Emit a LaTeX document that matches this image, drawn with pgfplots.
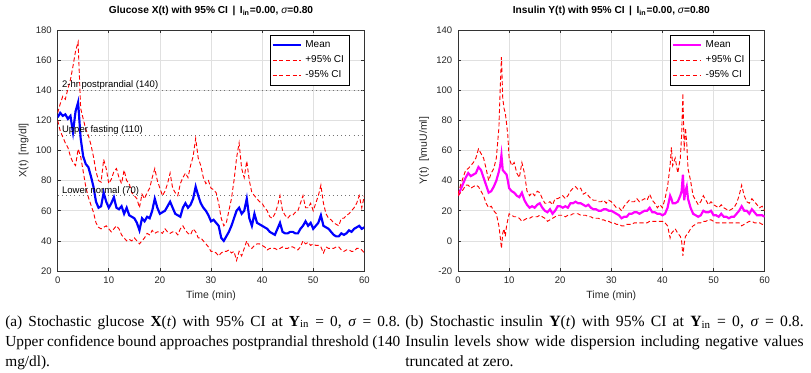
\documentclass[border=0pt]{standalone}
\usepackage{fontspec}
\setmainfont{Liberation Serif}
\setsansfont{Liberation Sans}
\newfontfamily\chartfont{Liberation Sans}
\usepackage{pgfplots}
\pgfplotsset{compat=1.18}
\usepackage{pgfplotstable}
\definecolor{mag}{RGB}{255,0,255}
\definecolor{mblue}{RGB}{0,0,255}
\definecolor{mred}{RGB}{255,0,0}

% glucose: t, mean, upper, lower
\pgfplotstableread{
t m u l
0 122 125 120
0.5 125 131 113
1 123 136 109
1.5 124 134 105
2 121 141 102
2.5 123 147 96
3 112 156 92
3.5 126 166 90
4 132 172 101
4.5 108 128 96
5 96 121 86
5.5 91 114 76
6 89 110 69
6.5 83 104 64
7 76 96 59
7.5 66 86 52
8 62 80 49
8.5 63 79 48
9 72 94 49
9.5 66 88 50
10 62 78 48
10.5 65 81 46
11 69 86 48
11.5 62 88 50
12 61 82 48
12.5 63 78 44
13 58 87 42
13.5 62 80 40
14 57 78 41
14.5 56 72 40
15 55 70 42
15.5 52 68 40
16 47 62 38
16.5 55 71 40
17 53 68 42
17.5 56 72 45
18 55 75 44
18.5 60 82 47
19 68 88 45
19.5 62 80 46
20 58 75 46
20.5 59 70 45
21 60 73 48
21.5 63 78 46
22 66 85 45
22.5 62 75 46
23 58 72 46
23.5 57 70 44
24 56 78 48
24.5 62 82 50
25 65 85 47
25.5 62 82 45
26 64 90 44
26.5 68 96 48
27 76 108 46
27.5 70 95 42
28 65 90 42
28.5 62 82 40
29 60 78 38
29.5 57 80 36
30 53 75 33
30.5 54 74 33
31 52 72 32
31.5 50 65 30
32 42 55 32
32.5 40 50 33
33 43 52 33
33.5 46 60 34
34 50 68 32
34.5 55 80 33
35 60 95 27
35.5 62 105 33
36 58 88 30
36.5 60 82 35
37 68 93 40
37.5 55 80 36
38 50 72 35
38.5 58 70 37
39 52 68 38
39.5 51 66 38
40 50 65 37
40.5 49 62 36
41 48 60 34
41.5 46 56 35
42 45 55 35
42.5 44 58 35
43 48 63 34
43.5 52 70 35
44 46 60 36
44.5 45 57 35
45 45 55 35
45.5 46 57 36
46 46 57 36
46.5 45 59 35
47 45 60 34
47.5 48 65 36
48 50 70 40
48.5 53 62 38
49 50 62 39
49.5 52 65 37
50 48 60 38
50.5 50 65 37
51 52 70 37
51.5 57 77 36
52 50 65 32
52.5 49 58 36
53 48 55 35
53.5 46 54 35
54 44 52 35
54.5 43 51 36
55 43 50 36
55.5 45 55 34
56 44 55 33
56.5 45 57 34
57 47 58 34
57.5 46 60 33
58 48 62 33
58.5 49 65 35
59 50 70 35
59.5 48 62 34
60 49 70 32
}\glucose

% insulin: t, mean, upper, lower
\pgfplotstableread{
t m u l
0 30 31 30
0.5 34 37 32
1 38 42 34
1.5 42 47 37
2 45 48 37
2.5 43 50 35
3 44 52 36
3.5 45 55 37
4 49 61 36
4.5 47 58 33
5 42 55 30
5.5 37 48 25
6 32 40 22
6.5 33 45 23
7 36 48 20
7.5 40 55 18
8 46 75 10
8.25 50 100 3
8.5 57 122 -5
8.75 47 95 5
9 46 88 8
9.25 45 85 3
9.5 44 78 10
9.75 40 70 14
10 35 55 18
10.5 33 50 17
11 32 52 16
11.5 30 45 16
12 29 42 15
12.5 32 52 13
13 27 45 14
13.5 24 33 15
14 22 30 15
14.5 23 32 16
15 22 30 16
15.5 24 33 16
16 25 32 17
16.5 22 28 16
17 20 25 15
17.5 19 25 13
18 21 26 14
18.5 18 24 15
19 20 28 16
19.5 23 28 17
20 23 29 17
20.5 22 30 17
21 23 28 16
21.5 22 30 17
22 25 33 17
22.5 25 35 18
23 26 36 18
23.5 25 34 18
24 25 35 17
24.5 24 31 17
25 23 32 17
25.5 24 30 16
26 22 28 16
26.5 21 27 15
27 21 27 15
27.5 20 26 15
28 20 26 14
28.5 21 27 14
29 21 25 13
29.5 20 27 13
30 20 26 12
30.5 19 24 12
31 18 22 11
31.5 17 22 11
32 15 20 10
32.5 16 23 10
33 16 25 11
33.5 18 27 11
34 18 26 11
34.5 19 26 12
35 19 28 12
35.5 18 26 12
36 19 27 12
36.5 20 28 12
37 20 27 12
37.5 22 31 13
38 19 27 13
38.5 19 25 13
39 18 22 13
39.5 18 24 13
40 17 22 13
40.5 18 28 12
41 22 36 10
41.5 30 50 2
41.75 28 62 5
42 25 50 6
42.5 25 55 8
43 26 45 5
43.5 30 55 3
43.75 33 70 0
44 44 98 -10
44.25 27 60 -2
44.5 33 75 3
44.75 36 65 4
45 28 48 5
45.5 22 40 8
46 18 30 10
46.5 17 27 11
47 16 24 12
47.5 17 26 12
48 20 30 13
48.5 19 27 13
49 19 24 14
49.5 20 26 14
50 17 24 13
50.5 17 23 12
51 16 22 12
51.5 18 24 12
52 16 22 12
52.5 16 21 12
53 15 20 12
53.5 16 21 12
54 16 22 12
54.5 18 25 12
55 20 30 12
55.5 23 37 10
56 20 30 11
56.5 20 26 12
57 18 25 13
57.5 21 28 13
58 19 26 12
58.5 17 24 12
59 17 22 12
59.5 17 23 11
60 16 20 11
}\insulin

\newcommand{\cf}{\chartfont\fontsize{5.7}{6.6}\selectfont}
\newcommand{\lf}{\chartfont\fontsize{6.3}{7.2}\selectfont}

\pgfplotsset{
  matstyle/.style={
    scale only axis, width=184pt, height=144.6pt,
    anchor=south west,
    xmin=0, xmax=60, xtick={0,10,...,60},
    font=\cf,
    tick label style={font=\cf, text=black!85},
    label style={font=\lf, text=black!85},
    /pgf/number format/assume math mode=true,
    grid=major, major grid style={black!12, line width=0.35pt},
    axis line style={black!80, line width=0.4pt},
    tick style={black!80, line width=0.35pt},
    major tick length=2pt, tick align=inside, tick pos=both,
    title style={font=\chartfont\bfseries\fontsize{6.1}{7}\selectfont, yshift=-1pt},
    xlabel={Time (min)},
    xlabel style={yshift=2.5pt},
    ylabel style={yshift=-2.5pt},
    legend style={at={(1,1)}, anchor=north east, xshift=-9pt, yshift=-3pt,
      draw=black, line width=0.4pt, font=\chartfont\fontsize{6}{7}\selectfont,
      inner sep=1pt, row sep=-0.5pt, cells={anchor=west}},
    legend image code/.code={\draw[##1] (0pt,0pt) -- (17pt,0pt);},
    cidash/.style={mred, line width=0.55pt, dash pattern=on 2.5pt off 1.5pt},
  }
}

\begin{document}
\begin{tikzpicture}
\path[use as bounding box] (0,0) rectangle (486.6pt,223.2pt);

\begin{axis}[matstyle, at={(34.6pt,60.6pt)},
  ymin=20, ymax=180, ytick={20,40,...,180},
  title={Glucose X(t) with 95\% CI \,|\, I\textsubscript{in}=0.00, {\mdseries\itshape σ}=0.80},
  ylabel={X(t)\enspace[mg/dl]},
]
\addplot[black!55, dotted, line width=0.5pt, forget plot] coordinates {(0,140) (60,140)};
\addplot[black!55, dotted, line width=0.5pt, forget plot] coordinates {(0,110) (60,110)};
\addplot[black!55, dotted, line width=0.5pt, forget plot] coordinates {(0,70) (60,70)};
\addplot[mblue, line width=1.3pt] table[x=t, y=m] {\glucose};
\addlegendentry{Mean}
\addplot[cidash] table[x=t, y=u] {\glucose};
\addlegendentry{+95\% CI}
\addplot[cidash] table[x=t, y=l] {\glucose};
\addlegendentry{-95\% CI}
\node[anchor=base west, font=\cf, inner sep=0pt, yshift=1.6pt] at (axis cs:0.8,140) {2-hr postprandial (140)};
\node[anchor=base west, font=\cf, inner sep=0pt, yshift=1.6pt] at (axis cs:0.8,110) {Upper fasting (110)};
\node[anchor=base west, font=\cf, inner sep=0pt, yshift=1.6pt] at (axis cs:0.8,70) {Lower normal (70)};
\end{axis}

\begin{axis}[matstyle, at={(274.8pt,60.6pt)},
  ymin=-20, ymax=140, ytick={-20,0,...,140},
  title={Insulin Y(t) with 95\% CI \,|\, I\textsubscript{in}=0.00, {\mdseries\itshape σ}=0.80},
  ylabel={Y(t)\enspace[\textbackslash muU/ml]},
]
\addplot[mag, line width=1.3pt] table[x=t, y=m] {\insulin};
\addlegendentry{Mean}
\addplot[cidash] table[x=t, y=u] {\insulin};
\addlegendentry{+95\% CI}
\addplot[cidash] table[x=t, y=l] {\insulin};
\addlegendentry{-95\% CI}
\end{axis}

\node[anchor=base west, inner sep=0pt, text width=237pt, align=justify,
  font=\fontsize{9.2}{12}\selectfont] at (3pt,27.6pt)
  {\hyphenpenalty=10000 \exhyphenpenalty=10000 (a) Stochastic glucose \textbf{X}(\textit{t}) with 95\% CI at \textbf{Y}\textsubscript{in}~=~0, \textit{σ}~=~0.8. Upper confidence bound approaches postprandial threshold (140 mg/dl).\par};
\node[anchor=base west, inner sep=0pt, text width=239pt, align=justify,
  font=\fontsize{9.4}{12}\selectfont] at (243pt,27.6pt)
  {\hyphenpenalty=10000 \exhyphenpenalty=10000 (b) Stochastic insulin \textbf{Y}(\textit{t}) with 95\% CI at \textbf{Y}\textsubscript{in}~=~0, \textit{σ}~=~0.8. Insulin levels show wide dispersion including negative values truncated at zero.\par};
\end{tikzpicture}
\end{document}
